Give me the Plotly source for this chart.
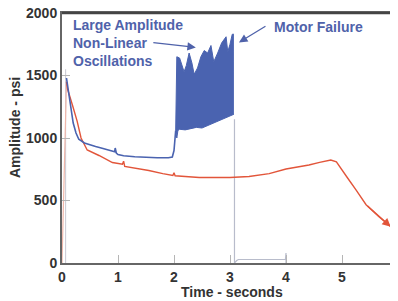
import plotly.graph_objects as go

# ---- data ----
blue_t = [0.08, 0.1, 0.15, 0.2, 0.25, 0.3, 0.4, 0.5, 0.6, 0.7, 0.8, 0.9, 0.94, 0.95, 0.97,
          1.0, 1.1, 1.3, 1.5, 1.7, 1.9, 1.97, 2.0, 2.03]
blue_p = [1480, 1420, 1250, 1120, 1040, 990, 960, 944, 932, 920, 905, 892, 890, 920, 880,
          868, 858, 850, 845, 842, 842, 848, 900, 1060]

osc_upper_t = [2.03, 2.05, 2.1, 2.15, 2.18, 2.22, 2.27, 2.32, 2.36, 2.42, 2.48, 2.54, 2.6,
               2.66, 2.71, 2.78, 2.85, 2.93, 2.96, 3.0, 3.04, 3.07]
osc_upper_p = [1060, 1650, 1640, 1560, 1530, 1580, 1680, 1600, 1510, 1560, 1650, 1700, 1680,
               1740, 1610, 1680, 1760, 1810, 1690, 1750, 1830, 1830]
osc_lower_t = [2.03, 2.05, 2.07, 2.1, 2.2, 2.3, 2.4, 2.5, 2.6, 2.7, 2.8, 2.9, 3.0, 3.07]
osc_lower_p = [1060, 1000, 1060, 1070, 1065, 1075, 1085, 1080, 1100, 1120, 1140, 1160, 1180, 1190]

after_t = [3.08, 3.08, 3.12, 3.15, 3.99, 4.0, 4.0]
after_p = [1150, 0, 20, 28, 30, 80, 0]

start_t = [0.065, 0.065]
start_p = [0, 1550]

red_rise_t = [0.0, 0.03, 0.06, 0.08]
red_rise_p = [0, 500, 1200, 1450]

red_t = [0.08, 0.1, 0.19, 0.27, 0.34, 0.39, 0.45, 0.66, 0.9, 1.08, 1.1, 1.12,
         1.3, 1.55, 1.8, 1.98, 2.0, 2.02, 2.2, 2.45, 2.8, 3.0, 3.34, 3.7, 4.0, 4.41, 4.6, 4.8,
         4.9, 5.0, 5.1, 5.25, 5.43, 5.66, 5.87, 5.98]
red_p = [1450, 1390, 1258, 1135, 1000, 960, 904, 860, 804, 790, 815, 772,
         760, 740, 715, 700, 722, 698, 692, 684, 684, 684, 692, 715, 752, 784, 805, 824,
         810, 750, 680, 585, 466, 370, 290, 250]

x_ticks = [0, 1, 2, 3, 4, 5, 6]
y_ticks = [0, 500, 1000, 1500, 2000]

BLUE = "#4a63b0"
RED = "#e2553a"
TXT_BLUE = "#4f62aa"
FONT = "Liberation Sans, Arial, sans-serif"

# the page body adds an 8px offset; size the figure so the plot lands where the reference has it
OFF = 8
W, H = 398 - OFF, 301 - OFF
L, R, T = 62 - OFF, 0, 13 - OFF
B = H - T - 250

def px_to_paper(px, py):
    px -= OFF
    py -= OFF
    return (px - L) / (W - L - R), 1 - (py - T) / (H - T - B)

fig = go.Figure()

fig.add_trace(go.Scatter(x=start_t, y=start_p, mode="lines",
                         line=dict(color="#c9c9d2", width=1), hoverinfo="skip"))
fig.add_trace(go.Scatter(x=after_t, y=after_p, mode="lines",
                         line=dict(color="#b8bccb", width=1.2), hoverinfo="skip"))
fig.add_trace(go.Scatter(x=red_rise_t, y=red_rise_p, mode="lines",
                         line=dict(color="#f0b7aa", width=1.2), hoverinfo="skip"))
fig.add_trace(go.Scatter(x=red_t, y=red_p, mode="lines",
                         line=dict(color=RED, width=1.4), hoverinfo="skip"))
fig.add_trace(go.Scatter(x=blue_t, y=blue_p, mode="lines",
                         line=dict(color=BLUE, width=1.6), hoverinfo="skip"))
fig.add_trace(go.Scatter(x=osc_lower_t, y=osc_lower_p, mode="lines",
                         line=dict(color=BLUE, width=1), hoverinfo="skip"))
fig.add_trace(go.Scatter(x=osc_upper_t, y=osc_upper_p, mode="lines", fill="tonexty",
                         fillcolor=BLUE, line=dict(color=BLUE, width=1), hoverinfo="skip"))

# arrowhead at the end of the red trace
fig.add_annotation(x=red_t[-2], y=red_p[-2], ax=red_t[-4], ay=red_p[-4],
                   xref="x", yref="y", axref="x", ayref="y", text="",
                   showarrow=True, arrowhead=2, arrowsize=1.2, arrowwidth=1.4,
                   arrowcolor=RED)

# text annotations
for txt, yv in [("Large Amplitude", 1908), ("Non-Linear", 1757), ("Oscillations", 1614)]:
    fig.add_annotation(x=0.16, y=yv, xref="x", yref="y", text=txt, showarrow=False,
                       xanchor="left", yanchor="middle",
                       font=dict(family=FONT, size=14, color=TXT_BLUE, weight="bold"))
fig.add_annotation(x=3.75, y=1890, xref="x", yref="y", text="Motor Failure",
                   showarrow=False, xanchor="left", yanchor="middle",
                   font=dict(family=FONT, size=14, color=TXT_BLUE, weight="bold"))

# pointer arrows
fig.add_annotation(x=2.39, y=1725, ax=-44, ay=-5, xref="x", yref="y", text="",
                   showarrow=True, arrowhead=2, arrowsize=1.3, arrowwidth=1.3,
                   arrowcolor=TXT_BLUE)
fig.add_annotation(x=3.16, y=1765, ax=28, ay=-17, xref="x", yref="y", text="",
                   showarrow=True, arrowhead=2, arrowsize=1.3, arrowwidth=1.3,
                   arrowcolor=TXT_BLUE)

# axis titles (placed in page pixels, converted to paper)
yx, yy = px_to_paper(15, 128)
fig.add_annotation(x=yx, y=yy, xref="paper", yref="paper", text="Amplitude - psi",
                   showarrow=False, textangle=-90, xanchor="center", yanchor="middle",
                   font=dict(family=FONT, size=14, color="#333333", weight="bold"))
tx, ty = px_to_paper(232, 292)
fig.add_annotation(x=tx, y=ty, xref="paper", yref="paper", text="Time - seconds",
                   showarrow=False, xanchor="center", yanchor="middle",
                   font=dict(family=FONT, size=14, color="#333333", weight="bold"))

fig.update_layout(
    width=W, height=H, margin=dict(l=L, r=R, t=T, b=B, autoexpand=False),
    paper_bgcolor="white", plot_bgcolor="white", showlegend=False,
    font=dict(family=FONT, size=14, color="#333333"),
)
fig.update_xaxes(range=[0, 6], tickvals=x_ticks, ticktext=[str(v) for v in x_ticks],
                 showgrid=False, zeroline=False, showline=True, linecolor="#666666",
                 linewidth=2, mirror=True, ticks="inside", ticklen=8, tickcolor="#b5b5b5",
                 tickwidth=1, automargin=False, ticklabeloverflow="allow",
                 tickfont=dict(family=FONT, size=14, color="#333333", weight="bold"))
fig.update_yaxes(range=[0, 2000], tickvals=y_ticks, ticktext=[str(v) for v in y_ticks],
                 showgrid=False, zeroline=False, showline=True, linecolor="#666666",
                 linewidth=2, ticks="inside", ticklen=8, tickcolor="#b5b5b5", tickwidth=1,
                 automargin=False, ticklabeloverflow="allow",
                 tickfont=dict(family=FONT, size=14, color="#333333", weight="bold"))
# top border, drawn explicitly above everything as well
fig.add_shape(type="line", xref="paper", yref="paper", x0=0, x1=1, y0=1, y1=1,
              layer="above", line=dict(color="#444444", width=2.5))

fig.write_html("out.html")
